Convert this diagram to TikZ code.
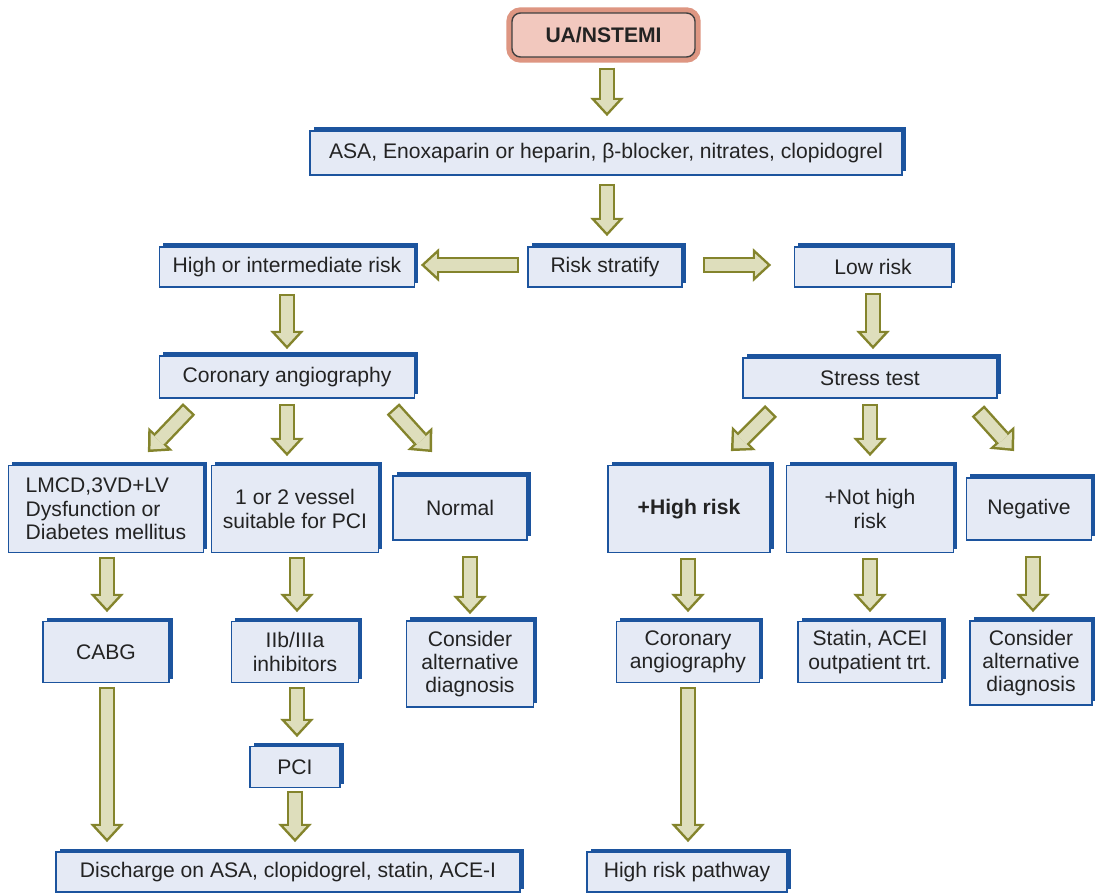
\documentclass[tikz,border=0pt]{standalone}
\usepackage{fontspec}
\setmainfont{Liberation Sans}
\usetikzlibrary{arrows.meta,calc,shadows}

\definecolor{boxblue}{RGB}{28,84,158}
\definecolor{boxfill}{RGB}{229,234,245}
\definecolor{topfill}{RGB}{242,200,190}
\definecolor{topglow}{RGB}{222,150,130}
\definecolor{arrline}{RGB}{132,132,44}
\definecolor{arrfill}{RGB}{222,222,188}
\definecolor{txt}{RGB}{35,35,35}

\begin{document}
\begin{tikzpicture}[
    x=0.025cm, y=-0.025cm,
    wh/.style 2 args = {minimum width=#1*0.025cm, minimum height=#2*0.025cm},
    box/.style    = {draw=boxblue, line width=1.3pt, fill=boxfill, text=txt,
                     align=center, inner sep=2pt,
                     font=\fontsize{15}{16.6}\selectfont,
                     general shadow={fill=boxblue, shadow xshift=2.5pt, shadow yshift=2.5pt}},
    topbox/.style = {draw=black!75, line width=1pt, fill=topfill, text=txt,
                     rounded corners=6pt, font=\fontsize{15}{16.6}\selectfont\bfseries,
                     preaction={draw=topglow, line width=8pt}},
    flow/.style   = {draw=arrfill, line width=8.5pt, shorten <=1.75pt, shorten >=2.6pt,
                     -{Triangle[length=8.7pt, width=16pt, line width=0pt]},
                     preaction={draw=arrline, line width=12pt, shorten <=0pt, shorten >=0pt,
                                -{Triangle[length=13pt, width=24pt, line width=0pt]}}}
]
\useasboundingbox (0,0) rectangle (1095,894);
\fill[white] (0,0) rectangle (1095,894);

% Entry and initial therapy
\node[topbox, wh={183}{44}] (top) at (603.5,35) {UA/NSTEMI};
\node[box, wh={592}{44}] (asa) at (606,153)
    {ASA, Enoxaparin or heparin, β-blocker, nitrates, clopidogrel};

% Risk stratification row
\node[box, wh={255}{40}] (high) at (287,267) {High or intermediate risk};
\node[box, wh={154}{40}] (risk) at (605,267) {Risk stratify};
\node[box, wh={157}{40}] (low)  at (873,267) {Low risk};

\node[box, wh={255}{42}] (cor)    at (287,377) {Coronary angiography};
\node[box, wh={254}{40}] (stress) at (870,378) {Stress test};

% Findings
\node[box, wh={195}{87}, align=left] (lmcd) at (106,509)
    {LMCD,3VD+LV\\Dysfunction or\\Diabetes mellitus};
\node[box, wh={167}{87}] (vessel)  at (295,509)  {1 or 2 vessel\\suitable for PCI};
\node[box, wh={134}{64}] (normal)  at (460,508)  {Normal};
\node[box, wh={162}{87}] (hrisk)   at (689,509)  {\textbf{+High risk}};
\node[box, wh={167}{87}] (nothigh) at (870,509)  {+Not high\\risk};
\node[box, wh={125}{62}] (neg)     at (1029,509) {Negative};

% Treatment
\node[box, wh={126}{61}] (cabg)   at (106,652)  {CABG};
\node[box, wh={127}{61}] (iib)    at (295,652)  {IIb/IIIa\\inhibitors};
\node[box, wh={127}{86}] (alt1)   at (470,664)  {Consider\\alternative\\diagnosis};
\node[box, wh={143}{61}] (cang)   at (688,652)  {Coronary\\angiography};
\node[box, wh={144}{61}] (statin) at (870,652)  {Statin, ACEI\\outpatient trt.};
\node[box, wh={122}{84}] (alt2)   at (1031,663) {Consider\\alternative\\diagnosis};
\node[box, wh={90}{41}]  (pci)    at (295,767)  {PCI};

% Outcome
\node[box, wh={464}{40}] (disch) at (288,872) {Discharge on ASA, clopidogrel, statin, ACE-I};
\node[box, wh={200}{40}] (path)  at (687,872) {High risk pathway};

% Block arrows
\draw[flow] ($(top.south)+(3.5,10)$) -- ($(top.south |- asa.north)+(3.5,-14)$);
\draw[flow] ($(asa.south)+(1,8)$) -- ($(asa.south |- risk.north)+(1,-10)$);
\draw[flow] ($(risk.west)+(-8,-2)$) -- ($(high.east)+(5.5,-2)$);
\draw[flow] ($(risk.east)+(20,-2)$) -- ($(low.west)+(-22.5,-2)$);
\draw[flow] ($(high.south)+(0,6)$) -- ($(cor.north)+(0,-6)$);
\draw[flow] ($(low.south)+(0,5)$) -- ($(low.south |- stress.north)+(0,-8)$);

\draw[flow] ($(cor.south west)+(30.5,10)$) -- ($(lmcd.north east)+(-56.5,-12.5)$);
\draw[flow] ($(cor.south)+(0,5)$) -- ($(cor.south |- vessel.north)+(0,-8.5)$);
\draw[flow] ($(cor.south east)+(-22.5,10)$) -- ($(normal.north west)+(40,-23)$);
\draw[flow] ($(stress.south west)+(29,12)$) -- ($(hrisk.north east)+(-40,-13.5)$);
\draw[flow] ($(stress.south)+(0,5)$) -- ($(stress.south |- nothigh.north)+(0,-8.5)$);
\draw[flow] ($(stress.south east)+(-20,12)$) -- ($(neg.north west)+(48.5,-26)$);

\draw[flow] ($(lmcd.south)+(1,3.5)$) -- ($(lmcd.south |- cabg.north)+(1,-8.5)$);
\draw[flow] ($(vessel.south)+(2,3.5)$) -- ($(vessel.south |- iib.north)+(2,-8.5)$);
\draw[flow] ($(normal.south)+(10,15)$) -- ($(normal.south |- alt1.north)+(10,-6)$);
\draw[flow] ($(hrisk.south)+(-1,4.5)$) -- ($(hrisk.south |- cang.north)+(-1,-8.5)$);
\draw[flow] ($(nothigh.south)+(0,4.5)$) -- ($(nothigh.south |- statin.north)+(0,-8.5)$);
\draw[flow] ($(neg.south)+(4,15)$) -- ($(neg.south |- alt2.north)+(4,-8)$);

\draw[flow] ($(cabg.south)+(1,3.5)$) -- ($(cabg.south |- disch.north)+(1,-9)$);
\draw[flow] ($(iib.south)+(2,3.5)$) -- ($(iib.south |- pci.north)+(2,-8.5)$);
\draw[flow] ($(pci.south)+(0,2.5)$) -- ($(pci.south |- disch.north)+(0,-9)$);
\draw[flow] ($(cang.south)+(0,3.5)$) -- ($(cang.south |- path.north)+(0,-9)$);

\end{tikzpicture}
\end{document}
